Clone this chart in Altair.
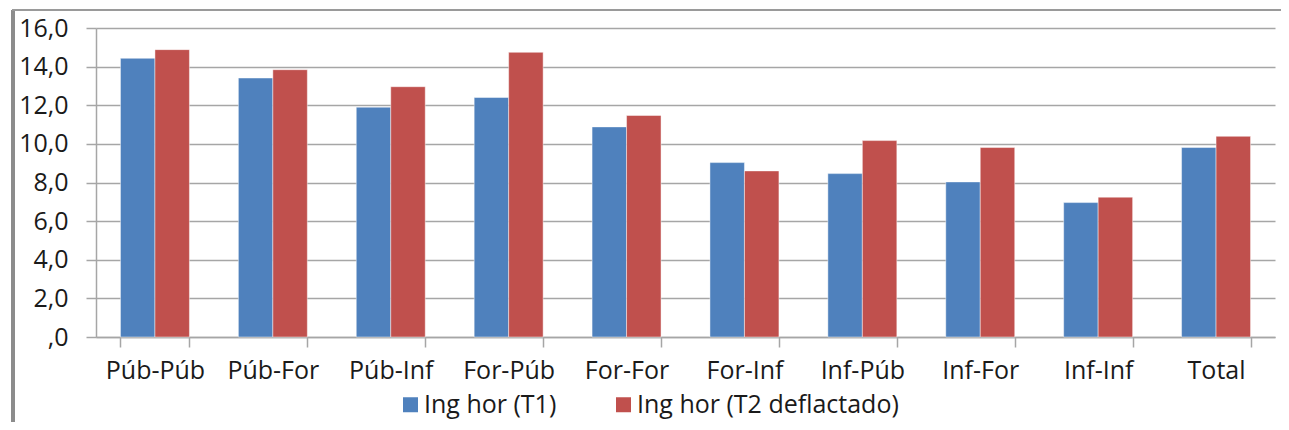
import altair as alt
import pandas as pd

categories = ["Púb-Púb", "Púb-For", "Púb-Inf", "For-Púb", "For-For",
              "For-Inf", "Inf-Púb", "Inf-For", "Inf-Inf", "Total"]
series_names = ["Ing hor (T1)", "Ing hor (T2 deflactado)"]
t1_values = [14.43, 13.41, 11.90, 12.40, 10.88, 9.03, 8.46, 8.03, 6.96, 9.81]
t2_values = [14.88, 13.84, 12.96, 14.74, 11.47, 8.60, 10.17, 9.81, 7.24, 10.39]
y_ticks = [0, 2, 4, 6, 8, 10, 12, 14, 16]
colors = ["#4F81BD", "#C0504D"]

rows = []
for c, a, b in zip(categories, t1_values, t2_values):
    rows.append({"cat": c, "serie": series_names[0], "val": a})
    rows.append({"cat": c, "serie": series_names[1], "val": b})
df = pd.DataFrame(rows)

FONT = "Open Sans"
FS = 25
W, H = 1179, 309

bars = alt.Chart(df).mark_bar(stroke="#ffffff", strokeWidth=1, strokeOpacity=0.45).encode(
    x=alt.X("cat:N", sort=categories, title=None,
            scale=alt.Scale(paddingInner=0.415, paddingOuter=0.2075),
            axis=alt.Axis(labelAngle=0, labelFont=FONT, labelFontSize=FS, labelColor="#1a1a1a",
                          domainColor="#a6a6a6", domainWidth=1.5, tickColor="#a6a6a6",
                          tickWidth=1.5, tickSize=10, tickBand="extent", labelPadding=11,
                          grid=False)),
    xOffset=alt.XOffset("serie:N", sort=series_names, scale=alt.Scale(paddingInner=0, paddingOuter=0)),
    y=alt.Y("val:Q", title=None,
            scale=alt.Scale(domain=[0, 16], nice=False),
            axis=alt.Axis(values=y_ticks,
                          labelExpr="datum.value == 0 ? ',0' : replace(format(datum.value, '.1f'), '.', ',')",
                          labelFont=FONT, labelFontSize=FS, labelColor="#1a1a1a",
                          labelPadding=18, tickSize=10, tickColor="#a6a6a6", tickWidth=1.5,
                          domainColor="#a6a6a6", domainWidth=1.5,
                          grid=True, gridColor="#a6a6a6", gridWidth=1.5)),
    color=alt.Color("serie:N", sort=series_names,
                    scale=alt.Scale(domain=series_names, range=colors),
                    legend=alt.Legend(title=None, orient="none", direction="horizontal",
                                      legendX=302, legendY=364, labelLimit=0,
                                      symbolType="square", symbolSize=225, symbolStrokeWidth=0,
                                      labelFont=FONT, labelFontSize=FS, labelColor="#1a1a1a",
                                      labelOffset=1, columnPadding=54)),
)

frame_left = alt.Chart(df).mark_rule(color="#8c8c8c", strokeWidth=3, clip=False).encode(
    x=alt.value(-83), y=alt.value(-18), y2=alt.value(410))
frame_top = alt.Chart(df).mark_rule(color="#9a9a9a", strokeWidth=2, clip=False).encode(
    x=alt.value(-84), x2=alt.value(1200), y=alt.value(-18))

chart = alt.layer(frame_left, frame_top, bars).properties(
    width=W, height=H,
    autosize=alt.AutoSizeParams(type="none"),
    padding={"left": 88, "top": 20, "right": 6, "bottom": 85},
).configure_view(stroke=None)

chart.save("out.html", embed_options={"renderer": "svg", "actions": False})
